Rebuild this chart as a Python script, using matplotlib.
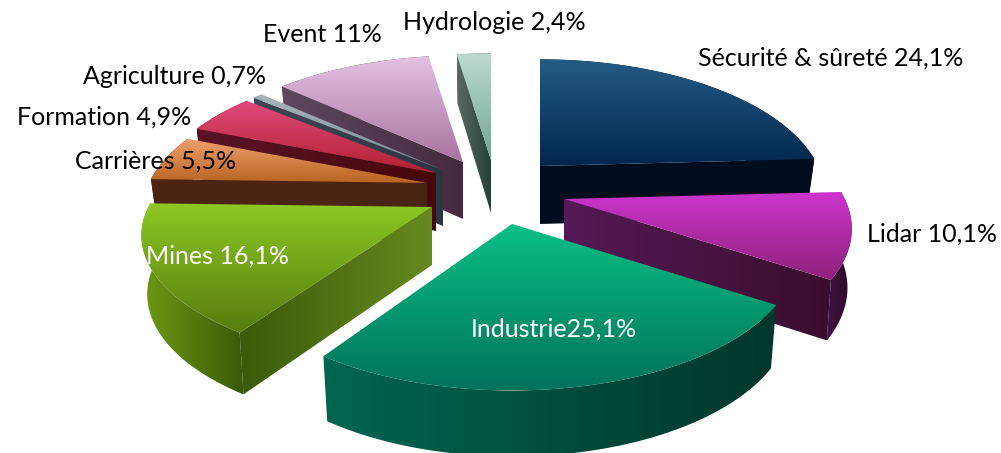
import numpy as np
import matplotlib
matplotlib.use('Agg')
import matplotlib.pyplot as plt
from matplotlib.colors import LinearSegmentedColormap
from matplotlib.patches import Polygon

plt.rcParams['font.family'] = ['Lato', 'DejaVu Sans']

names = ['Sécurité', 'Lidar', 'Industrie', 'Mines', 'Carrières', 'Formation', 'Agriculture', 'Event', 'Hydrologie']
values = [24.1, 10.1, 25.1, 16.1, 5.5, 4.9, 0.7, 11, 2.4]
labels = ['Sécurité & sûreté 24,1%', 'Lidar 10,1%', 'Industrie25,1%', 'Mines 16,1%', 'Carrières 5,5%',
          'Formation 4,9%', 'Agriculture 0,7%', 'Event 11%', 'Hydrologie 2,4%']

# exploded slice apex in pixels, and radius scale
apex_x = [540, 564, 512, 432, 427, 436, 443, 463, 491]
apex_y = [166, 199, 224, 207, 183, 173, 170, 162, 160]
scale_x = [1.0, 1.01, 1.0, 1.02, 1.0, 1.0, 1.0, 1.0, 1.0]
scale_y = [1.0, 1.0, 1.0, 0.95, 1.0, 1.0, 1.0, 1.0, 1.0]
low_x = [0.97, 0.985, 0.98, 0.98, 0.97, 0.97, 0.97, 0.97, 0.97]
depth = [58, 58, 61, 58, 58, 58, 56, 57, 53]

top_cols = [('#245C85', '#01264D'), ('#CC35CF', '#8E2179'), ('#0ABF85', '#00735A'), ('#8DC823', '#567C0F'),
            ('#EFA070', '#B86420'), ('#E04A7F', '#B32030'), ('#A9B5BD', '#7C8790'), ('#E3C2E2', '#A8739F'),
            ('#BEDACE', '#6FA695')]
side_cols = [('#000D1F', '#000D1F'), ('#551A55', '#3A0D2E'), ('#006650', '#00362C'), ('#3A5A08', '#678A1F'),
             ('#4D2613', '#4A2412'), ('#5C1328', '#460808'), ('#3F4753', '#2D3540'), ('#5E4860', '#46293F'),
             ('#5A6A63', '#233F37')]
wall_cols = [('#000D1F', '#000D1F'), ('#3F1240', '#2E0A28'), ('#006650', '#00362C'), ('#6E9A14', '#3A5A08'),
             ('#4D2613', '#4A2412'), ('#5C1328', '#460808'), ('#3F4753', '#2D3540'), ('#5E4860', '#46293F'),
             ('#5A6A63', '#233F37')]

label_x = [698, 867, 471, 146, 75, 17, 83, 263, 403]
label_y = [58, 234, 329, 256, 161, 117, 77, 35, 22]
label_c = ['black', 'black', 'white', 'white', 'black', 'black', 'black', 'black', 'black']

R = 278
Ry = 130
k = 0.219
z = [0]


def project(theta):
    X = np.sin(theta)
    Y = np.cos(theta)
    s = 1 / (1 + k * Y)
    return R * X * s, -Ry * Y * s


def fill(ax, pts, cols, vertical):
    z[0] += 1
    pts = np.array(pts)
    cm = LinearSegmentedColormap.from_list('c', cols)
    x0, y0 = pts.min(axis=0)
    x1, y1 = pts.max(axis=0)
    grad = np.linspace(0, 1, 256)
    grad = grad.reshape(-1, 1) if vertical else grad.reshape(1, -1)
    im = ax.imshow(grad, cmap=cm, extent=(x0, x1, y1, y0), aspect='auto', zorder=z[0], vmin=0, vmax=1)
    poly = Polygon(pts, closed=True, transform=ax.transData, fc='none', ec='none')
    im.set_clip_path(poly)


fig = plt.figure(figsize=(10.01, 4.53), dpi=100)
ax = fig.add_axes([0, 0, 1, 1])

edges = np.radians(np.cumsum([0] + values) * 360 / sum(values))
order = [8, 7, 6, 5, 4, 0, 1, 3, 2]
for i in order:
    t = np.linspace(edges[i], edges[i + 1], 80)
    px, py = project(t)
    px = px * scale_x[i]
    py = py * scale_y[i]
    ax0, ay0 = apex_x[i], apex_y[i]
    d = depth[i]
    top = np.column_stack([ax0 + px, ay0 + py])
    low = np.column_stack([ax0 + px * low_x[i], ay0 + py * 1.03 + d])
    fill(ax, np.vstack([top, low[::-1]]), wall_cols[i], False)
    # radial face that looks at the viewer
    if edges[i + 1] < np.pi:
        fill(ax, [(ax0, ay0), top[-1], low[-1], (ax0, ay0 + d)], side_cols[i], False)
    if edges[i] > np.pi:
        fill(ax, [(ax0, ay0), top[0], low[0], (ax0, ay0 + d)], side_cols[i], False)
    fill(ax, np.vstack([[(ax0, ay0)], top]), top_cols[i], True)

for i in range(len(labels)):
    ax.text(label_x[i], label_y[i], labels[i], color=label_c[i], fontsize=18, ha='left', va='center', zorder=100)

ax.set_xlim(0, 1001)
ax.set_ylim(453, 0)
ax.axis('off')
fig.savefig('out.png', dpi=100, facecolor='white')
